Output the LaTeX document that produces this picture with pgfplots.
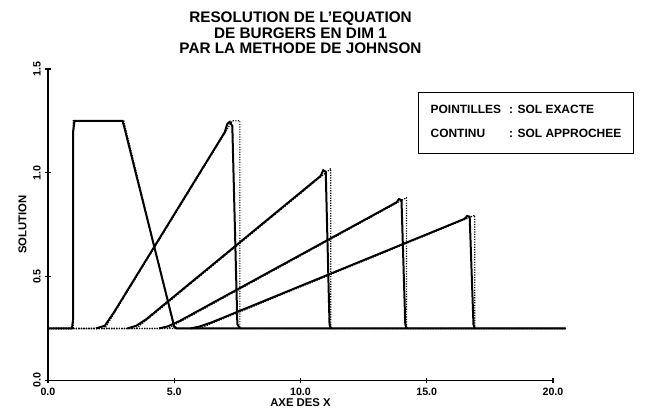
\documentclass[border=0pt]{standalone}
\usepackage{fontspec}
\setmainfont{Liberation Sans}
\usepackage{pgfplots}
\pgfplotsset{compat=1.18}
\begin{document}
\begin{tikzpicture}
\begin{axis}[
  width=379.5pt, height=234pt, scale only axis,
  xmin=0, xmax=20, ymin=0, ymax=1.5,
  axis lines*=left, clip=false,
  axis line style={line width=1.1pt},
  xtick={0,5,10,15,20}, xticklabels={0.0,5.0,10.0,15.0,20.0},
  ytick={0,0.5,1,1.5}, yticklabels={0.0,0.5,1.0,1.5},
  tick style={line width=1pt, black},
  major tick length=4pt,
  tick align=center,
  xticklabel style={font=\bfseries\fontsize{8}{9}\selectfont},
  yticklabel style={font=\bfseries\fontsize{8}{9}\selectfont, rotate=90, anchor=south, xshift=0pt},
  xlabel={AXE DES X}, ylabel={SOLUTION},
  xlabel style={font=\bfseries\fontsize{8.5}{10}\selectfont, yshift=4pt},
  ylabel style={font=\bfseries\fontsize{8.5}{10}\selectfont, yshift=-2pt},
  title={RESOLUTION DE L'EQUATION\\DE BURGERS EN DIM 1\\PAR LA METHODE DE JOHNSON},
  title style={align=center, font=\bfseries\fontsize{11.5}{11.5}\selectfont, yshift=2pt},
]
% frame of the whole picture (invisible)
\path (axis cs:-1.9,-0.163) rectangle (axis cs:24.0,1.832);
% exact solutions (pointilles)
\addplot[black, line width=0.9pt, densely dotted] coordinates {(0,0.25) (1,0.25) (1,1.25) (3,1.25) (5,0.25) (20.5,0.25)};
\addplot[black, line width=0.9pt, densely dotted] coordinates {(0,0.25) (2.25,0.25) (7.3,1.25) (7.6,1.25) (7.6,0.25) (20.5,0.25)};
\addplot[black, line width=0.9pt, densely dotted] coordinates {(0,0.25) (3.5,0.25) (11.2,1.02) (11.2,0.25) (20.5,0.25)};
\addplot[black, line width=0.9pt, densely dotted] coordinates {(0,0.25) (4.75,0.25) (14.2,0.88) (14.2,0.25) (20.5,0.25)};
\addplot[black, line width=0.9pt, densely dotted] coordinates {(0,0.25) (6.0,0.25) (16.9,0.795) (16.9,0.25) (20.5,0.25)};
% approximate solutions (continu)
\addplot[black, line width=1.5pt] coordinates {(0,0.25) (0.95,0.25) (1.0,0.3) (1.0,1.2) (1.05,1.25) (2.95,1.25) (3.0,1.23) (5.0,0.26) (5.1,0.25) (20.5,0.25)};
\addplot[black, line width=1.5pt] coordinates {(1.9,0.25) (2.25,0.263) (2.6,0.325) (7.0,1.195) (7.1,1.235) (7.2,1.245) (7.3,1.225) (7.5,0.27) (7.6,0.25)};
\addplot[black, line width=1.5pt] coordinates {(3.15,0.25) (3.5,0.263) (3.9,0.295) (10.8,0.985) (10.9,1.012) (11.0,1.005) (11.15,0.27) (11.2,0.25)};
\addplot[black, line width=1.5pt] coordinates {(4.4,0.25) (4.75,0.26) (5.2,0.285) (13.8,0.857) (13.9,0.873) (14.0,0.868) (14.15,0.27) (14.2,0.25)};
\addplot[black, line width=1.5pt] coordinates {(5.65,0.25) (6.0,0.259) (6.5,0.28) (16.5,0.778) (16.6,0.792) (16.7,0.788) (16.85,0.27) (16.9,0.25)};
\node[draw, line width=1.1pt, inner xsep=9pt, inner ysep=9pt, anchor=north west,
      font=\bfseries\fontsize{9}{10}\selectfont]
  at (axis cs:14.65,1.39)
  {\begin{tabular}{@{}l@{\hspace{6pt}}l@{}}POINTILLES & : SOL EXACTE\\[8pt] CONTINU & : SOL APPROCHEE\end{tabular}};
\end{axis}
\end{tikzpicture}
\end{document}
